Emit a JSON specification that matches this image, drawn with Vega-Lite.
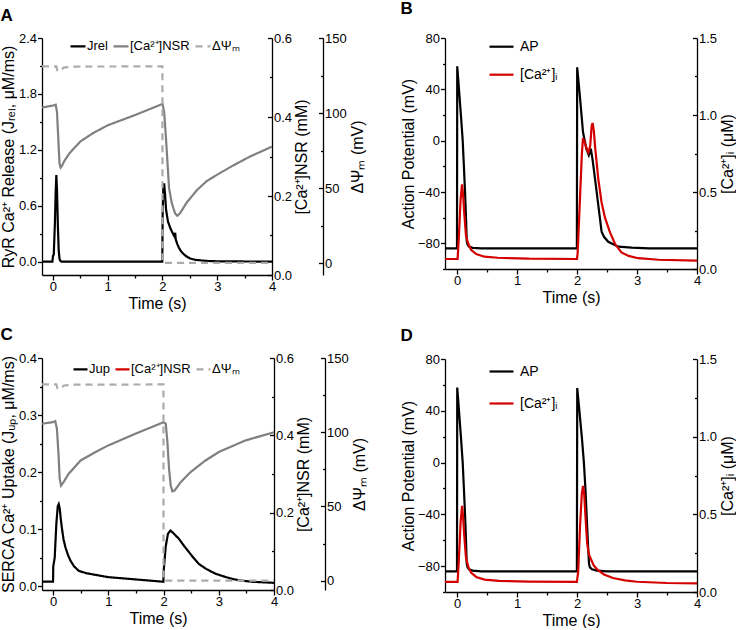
{
"$schema": "https://vega.github.io/schema/vega-lite/v6.json",
"padding": {"left": 0, "top": 0, "right": 0, "bottom": 0},
"datasets": {
"A1": [{"s":"Jrel","t":-0.2,"v":0},{"s":"Jrel","t":-0.01,"v":0},{"s":"Jrel","t":0,"v":0.06},{"s":"Jrel","t":0.015,"v":0.08},{"s":"Jrel","t":0.035,"v":0.4},{"s":"Jrel","t":0.05,"v":0.75},{"s":"Jrel","t":0.062,"v":0.93},{"s":"Jrel","t":0.075,"v":0.75},{"s":"Jrel","t":0.09,"v":0.38},{"s":"Jrel","t":0.105,"v":0.12},{"s":"Jrel","t":0.12,"v":0.03},{"s":"Jrel","t":0.14,"v":0.005},{"s":"Jrel","t":0.16,"v":0},{"s":"Jrel","t":1.997,"v":0},{"s":"Jrel","t":2.003,"v":0.5},{"s":"Jrel","t":2.015,"v":0.8},{"s":"Jrel","t":2.03,"v":0.84},{"s":"Jrel","t":2.045,"v":0.74},{"s":"Jrel","t":2.065,"v":0.56},{"s":"Jrel","t":2.1,"v":0.43},{"s":"Jrel","t":2.15,"v":0.35},{"s":"Jrel","t":2.2,"v":0.29},{"s":"Jrel","t":2.22,"v":0.27},{"s":"Jrel","t":2.232,"v":0.31},{"s":"Jrel","t":2.242,"v":0.24},{"s":"Jrel","t":2.27,"v":0.19},{"s":"Jrel","t":2.3,"v":0.15},{"s":"Jrel","t":2.34,"v":0.11},{"s":"Jrel","t":2.38,"v":0.085},{"s":"Jrel","t":2.44,"v":0.055},{"s":"Jrel","t":2.5,"v":0.035},{"s":"Jrel","t":2.6,"v":0.02},{"s":"Jrel","t":2.8,"v":0.008},{"s":"Jrel","t":3.0,"v":0.004},{"s":"Jrel","t":4,"v":0}],
"A2": [{"s":"[Ca²⁺]NSR","t":-0.2,"v":0.424},{"s":"[Ca²⁺]NSR","t":0,"v":0.429},{"s":"[Ca²⁺]NSR","t":0.05,"v":0.431},{"s":"[Ca²⁺]NSR","t":0.073,"v":0.414},{"s":"[Ca²⁺]NSR","t":0.1,"v":0.338},{"s":"[Ca²⁺]NSR","t":0.12,"v":0.282},{"s":"[Ca²⁺]NSR","t":0.14,"v":0.272},{"s":"[Ca²⁺]NSR","t":0.17,"v":0.278},{"s":"[Ca²⁺]NSR","t":0.21,"v":0.289},{"s":"[Ca²⁺]NSR","t":0.3,"v":0.308},{"s":"[Ca²⁺]NSR","t":0.5,"v":0.338},{"s":"[Ca²⁺]NSR","t":0.73,"v":0.359},{"s":"[Ca²⁺]NSR","t":1.0,"v":0.379},{"s":"[Ca²⁺]NSR","t":1.5,"v":0.405},{"s":"[Ca²⁺]NSR","t":2.0,"v":0.433},{"s":"[Ca²⁺]NSR","t":2.03,"v":0.414},{"s":"[Ca²⁺]NSR","t":2.06,"v":0.355},{"s":"[Ca²⁺]NSR","t":2.08,"v":0.31},{"s":"[Ca²⁺]NSR","t":2.12,"v":0.22},{"s":"[Ca²⁺]NSR","t":2.17,"v":0.182},{"s":"[Ca²⁺]NSR","t":2.23,"v":0.156},{"s":"[Ca²⁺]NSR","t":2.27,"v":0.15},{"s":"[Ca²⁺]NSR","t":2.32,"v":0.156},{"s":"[Ca²⁺]NSR","t":2.44,"v":0.183},{"s":"[Ca²⁺]NSR","t":2.63,"v":0.215},{"s":"[Ca²⁺]NSR","t":2.81,"v":0.238},{"s":"[Ca²⁺]NSR","t":3.0,"v":0.254},{"s":"[Ca²⁺]NSR","t":3.3,"v":0.278},{"s":"[Ca²⁺]NSR","t":3.6,"v":0.3},{"s":"[Ca²⁺]NSR","t":4,"v":0.325}],
"A3": [{"s":"ΔΨₘ","t":-0.2,"v":131.1},{"s":"ΔΨₘ","t":0.06,"v":131.1},{"s":"ΔΨₘ","t":0.08,"v":128.5},{"s":"ΔΨₘ","t":0.1,"v":127.8},{"s":"ΔΨₘ","t":0.13,"v":128.5},{"s":"ΔΨₘ","t":0.2,"v":130.3},{"s":"ΔΨₘ","t":0.35,"v":131},{"s":"ΔΨₘ","t":1.999,"v":131.1},{"s":"ΔΨₘ","t":2.0,"v":0.4},{"s":"ΔΨₘ","t":4,"v":0.4}],
"B1": [{"s":"AP","t":-0.2,"v":-84},{"s":"AP","t":0,"v":-84},{"s":"AP","t":0.004,"v":58},{"s":"AP","t":0.033,"v":40},{"s":"AP","t":0.065,"v":20},{"s":"AP","t":0.095,"v":0},{"s":"AP","t":0.115,"v":-20},{"s":"AP","t":0.134,"v":-40},{"s":"AP","t":0.15,"v":-60},{"s":"AP","t":0.162,"v":-78},{"s":"AP","t":0.175,"v":-81},{"s":"AP","t":0.2,"v":-82.5},{"s":"AP","t":0.26,"v":-83.5},{"s":"AP","t":0.4,"v":-84},{"s":"AP","t":1.998,"v":-84},{"s":"AP","t":2.003,"v":57.2},{"s":"AP","t":2.047,"v":35.2},{"s":"AP","t":2.1,"v":6.7},{"s":"AP","t":2.155,"v":-6.2},{"s":"AP","t":2.197,"v":-11.4},{"s":"AP","t":2.215,"v":-9},{"s":"AP","t":2.23,"v":-6.2},{"s":"AP","t":2.26,"v":-15},{"s":"AP","t":2.3,"v":-29.5},{"s":"AP","t":2.355,"v":-50.2},{"s":"AP","t":2.41,"v":-71},{"s":"AP","t":2.45,"v":-74.9},{"s":"AP","t":2.52,"v":-78.8},{"s":"AP","t":2.69,"v":-82.6},{"s":"AP","t":2.91,"v":-83.4},{"s":"AP","t":3.2,"v":-84},{"s":"AP","t":4,"v":-84}],
"B2": [{"s":"[Ca²⁺]ᵢ","t":-0.2,"v":0.065},{"s":"[Ca²⁺]ᵢ","t":0.01,"v":0.065},{"s":"[Ca²⁺]ᵢ","t":0.03,"v":0.2},{"s":"[Ca²⁺]ᵢ","t":0.06,"v":0.45},{"s":"[Ca²⁺]ᵢ","t":0.084,"v":0.55},{"s":"[Ca²⁺]ᵢ","t":0.1,"v":0.49},{"s":"[Ca²⁺]ᵢ","t":0.12,"v":0.367},{"s":"[Ca²⁺]ᵢ","t":0.15,"v":0.216},{"s":"[Ca²⁺]ᵢ","t":0.19,"v":0.162},{"s":"[Ca²⁺]ᵢ","t":0.234,"v":0.125},{"s":"[Ca²⁺]ᵢ","t":0.32,"v":0.097},{"s":"[Ca²⁺]ᵢ","t":0.457,"v":0.08},{"s":"[Ca²⁺]ᵢ","t":0.68,"v":0.073},{"s":"[Ca²⁺]ᵢ","t":1.2,"v":0.067},{"s":"[Ca²⁺]ᵢ","t":2.0,"v":0.065},{"s":"[Ca²⁺]ᵢ","t":2.01,"v":0.1},{"s":"[Ca²⁺]ᵢ","t":2.05,"v":0.46},{"s":"[Ca²⁺]ᵢ","t":2.08,"v":0.74},{"s":"[Ca²⁺]ᵢ","t":2.1,"v":0.85},{"s":"[Ca²⁺]ᵢ","t":2.13,"v":0.82},{"s":"[Ca²⁺]ᵢ","t":2.17,"v":0.77},{"s":"[Ca²⁺]ᵢ","t":2.19,"v":0.757},{"s":"[Ca²⁺]ᵢ","t":2.22,"v":0.8},{"s":"[Ca²⁺]ᵢ","t":2.245,"v":0.93},{"s":"[Ca²⁺]ᵢ","t":2.26,"v":0.948},{"s":"[Ca²⁺]ᵢ","t":2.28,"v":0.9},{"s":"[Ca²⁺]ᵢ","t":2.3,"v":0.8},{"s":"[Ca²⁺]ᵢ","t":2.355,"v":0.584},{"s":"[Ca²⁺]ᵢ","t":2.41,"v":0.432},{"s":"[Ca²⁺]ᵢ","t":2.465,"v":0.335},{"s":"[Ca²⁺]ᵢ","t":2.55,"v":0.238},{"s":"[Ca²⁺]ᵢ","t":2.635,"v":0.162},{"s":"[Ca²⁺]ᵢ","t":2.74,"v":0.108},{"s":"[Ca²⁺]ᵢ","t":2.86,"v":0.085},{"s":"[Ca²⁺]ᵢ","t":3.02,"v":0.07},{"s":"[Ca²⁺]ᵢ","t":3.36,"v":0.06},{"s":"[Ca²⁺]ᵢ","t":4,"v":0.054}],
"C1": [{"s":"Jup","t":-0.2,"v":0.008},{"s":"Jup","t":0,"v":0.008},{"s":"Jup","t":0.004,"v":0.035},{"s":"Jup","t":0.03,"v":0.05},{"s":"Jup","t":0.06,"v":0.11},{"s":"Jup","t":0.085,"v":0.14},{"s":"Jup","t":0.103,"v":0.144},{"s":"Jup","t":0.12,"v":0.137},{"s":"Jup","t":0.14,"v":0.118},{"s":"Jup","t":0.163,"v":0.1},{"s":"Jup","t":0.19,"v":0.082},{"s":"Jup","t":0.225,"v":0.068},{"s":"Jup","t":0.27,"v":0.055},{"s":"Jup","t":0.315,"v":0.045},{"s":"Jup","t":0.38,"v":0.035},{"s":"Jup","t":0.466,"v":0.027},{"s":"Jup","t":0.6,"v":0.023},{"s":"Jup","t":0.77,"v":0.02},{"s":"Jup","t":1.0,"v":0.016},{"s":"Jup","t":1.5,"v":0.012},{"s":"Jup","t":1.997,"v":0.008},{"s":"Jup","t":2.005,"v":0.03},{"s":"Jup","t":2.04,"v":0.07},{"s":"Jup","t":2.08,"v":0.092},{"s":"Jup","t":2.127,"v":0.0977},{"s":"Jup","t":2.18,"v":0.093},{"s":"Jup","t":2.28,"v":0.083},{"s":"Jup","t":2.37,"v":0.071},{"s":"Jup","t":2.46,"v":0.06},{"s":"Jup","t":2.55,"v":0.049},{"s":"Jup","t":2.64,"v":0.039},{"s":"Jup","t":2.78,"v":0.03},{"s":"Jup","t":2.94,"v":0.022},{"s":"Jup","t":3.1,"v":0.017},{"s":"Jup","t":3.24,"v":0.013},{"s":"Jup","t":3.4,"v":0.01},{"s":"Jup","t":3.6,"v":0.008},{"s":"Jup","t":4,"v":0.006}],
"C2": [{"t":-0.2,"v":0.43},{"t":0,"v":0.434},{"t":0.04,"v":0.437},{"t":0.07,"v":0.417},{"t":0.1,"v":0.348},{"t":0.12,"v":0.288},{"t":0.145,"v":0.27},{"t":0.19,"v":0.279},{"t":0.28,"v":0.3},{"t":0.5,"v":0.335},{"t":0.77,"v":0.357},{"t":1.0,"v":0.374},{"t":1.49,"v":0.404},{"t":2.0,"v":0.434},{"t":2.04,"v":0.43},{"t":2.07,"v":0.383},{"t":2.1,"v":0.313},{"t":2.13,"v":0.27},{"t":2.16,"v":0.255},{"t":2.2,"v":0.257},{"t":2.31,"v":0.279},{"t":2.49,"v":0.305},{"t":2.76,"v":0.335},{"t":3.0,"v":0.357},{"t":3.49,"v":0.387},{"t":4,"v":0.408}],
"C3": [{"s":"ΔΨₘ","t":-0.2,"v":132.2},{"s":"ΔΨₘ","t":0.06,"v":132.2},{"s":"ΔΨₘ","t":0.08,"v":129.5},{"s":"ΔΨₘ","t":0.1,"v":129},{"s":"ΔΨₘ","t":0.13,"v":129.5},{"s":"ΔΨₘ","t":0.2,"v":131.5},{"s":"ΔΨₘ","t":0.35,"v":132},{"s":"ΔΨₘ","t":1.999,"v":132.2},{"s":"ΔΨₘ","t":2.0,"v":0},{"s":"ΔΨₘ","t":4,"v":0}],
"D1": [{"s":"AP","t":-0.2,"v":-84},{"s":"AP","t":0,"v":-84},{"s":"AP","t":0.004,"v":58},{"s":"AP","t":0.033,"v":40},{"s":"AP","t":0.065,"v":20},{"s":"AP","t":0.095,"v":0},{"s":"AP","t":0.115,"v":-20},{"s":"AP","t":0.134,"v":-40},{"s":"AP","t":0.15,"v":-60},{"s":"AP","t":0.162,"v":-78},{"s":"AP","t":0.175,"v":-81},{"s":"AP","t":0.2,"v":-82.5},{"s":"AP","t":0.26,"v":-83.5},{"s":"AP","t":0.4,"v":-84},{"s":"AP","t":1.998,"v":-84},{"s":"AP","t":2.004,"v":57.5},{"s":"AP","t":2.04,"v":40},{"s":"AP","t":2.08,"v":20},{"s":"AP","t":2.115,"v":0},{"s":"AP","t":2.14,"v":-20},{"s":"AP","t":2.16,"v":-40},{"s":"AP","t":2.18,"v":-60},{"s":"AP","t":2.2,"v":-78},{"s":"AP","t":2.215,"v":-81},{"s":"AP","t":2.25,"v":-82.5},{"s":"AP","t":2.33,"v":-83.5},{"s":"AP","t":2.5,"v":-84},{"s":"AP","t":4,"v":-84}],
"D2": [{"s":"[Ca²⁺]ᵢ","t":-0.2,"v":0.065},{"s":"[Ca²⁺]ᵢ","t":0.01,"v":0.065},{"s":"[Ca²⁺]ᵢ","t":0.03,"v":0.2},{"s":"[Ca²⁺]ᵢ","t":0.06,"v":0.45},{"s":"[Ca²⁺]ᵢ","t":0.085,"v":0.554},{"s":"[Ca²⁺]ᵢ","t":0.1,"v":0.49},{"s":"[Ca²⁺]ᵢ","t":0.12,"v":0.367},{"s":"[Ca²⁺]ᵢ","t":0.15,"v":0.22},{"s":"[Ca²⁺]ᵢ","t":0.19,"v":0.16},{"s":"[Ca²⁺]ᵢ","t":0.234,"v":0.125},{"s":"[Ca²⁺]ᵢ","t":0.32,"v":0.097},{"s":"[Ca²⁺]ᵢ","t":0.46,"v":0.08},{"s":"[Ca²⁺]ᵢ","t":0.7,"v":0.072},{"s":"[Ca²⁺]ᵢ","t":1.2,"v":0.067},{"s":"[Ca²⁺]ᵢ","t":1.998,"v":0.065},{"s":"[Ca²⁺]ᵢ","t":2.02,"v":0.13},{"s":"[Ca²⁺]ᵢ","t":2.05,"v":0.42},{"s":"[Ca²⁺]ᵢ","t":2.08,"v":0.63},{"s":"[Ca²⁺]ᵢ","t":2.1,"v":0.683},{"s":"[Ca²⁺]ᵢ","t":2.12,"v":0.63},{"s":"[Ca²⁺]ᵢ","t":2.15,"v":0.43},{"s":"[Ca²⁺]ᵢ","t":2.17,"v":0.31},{"s":"[Ca²⁺]ᵢ","t":2.2,"v":0.24},{"s":"[Ca²⁺]ᵢ","t":2.28,"v":0.17},{"s":"[Ca²⁺]ᵢ","t":2.35,"v":0.14},{"s":"[Ca²⁺]ᵢ","t":2.45,"v":0.113},{"s":"[Ca²⁺]ᵢ","t":2.6,"v":0.09},{"s":"[Ca²⁺]ᵢ","t":2.8,"v":0.075},{"s":"[Ca²⁺]ᵢ","t":3.0,"v":0.066},{"s":"[Ca²⁺]ᵢ","t":3.5,"v":0.058},{"s":"[Ca²⁺]ᵢ","t":4,"v":0.055}]
},
"columns": 2,
"align": "none",
"spacing": {"row": 15, "column": 32},
"resolve": {"scale": {"color": "independent", "strokeDash": "independent"}},
"concat": [
{
"width": 230, "height": 237,
"title": {"text": "A", "offset": 7},
"resolve": {"scale": {"y": "independent"}},
"layer": [
{"data": {"name": "A1"}, "mark": {"type": "line", "strokeWidth": 2.2},
 "encoding": {
  "x": {"field": "t", "type": "quantitative", "scale": {"domain": [-0.2, 4], "nice": false, "zero": false}, "axis": {"title": "Time (s)", "values": [0,0.5,1,1.5,2,2.5,3,3.5,4], "labelExpr": "datum.value % 1 == 0 ? format(datum.value,'d') : ''", "tickSize": {"condition": {"test": "datum.value % 1 != 0", "value": 3}, "value": 5}, "labelPadding": 0, "titlePadding": 2}},
  "y": {"field": "v", "type": "quantitative", "scale": {"domain": [-0.143, 2.4], "nice": false, "zero": false}, "axis": {"orient": "left", "title": "RyR Ca²⁺ Release (Jᵣₑₗ, μM/ms)", "values": [0,0.3,0.6,0.9,1.2,1.5,1.8,2.1,2.4], "labelExpr": "round(datum.value*10) % 6 == 0 ? format(datum.value,'.1f') : ''", "tickSize": {"condition": {"test": "round(datum.value*10) % 6 != 0", "value": 2.5}, "value": 4.5}, "labelPadding": 1, "titlePadding": 2}},
  "color": {"field": "s", "type": "nominal", "scale": {"domain": ["Jrel", "[Ca²⁺]NSR", "ΔΨₘ"], "range": ["#000000", "#808080", "#ababab"]}, "legend": {"orient": "none", "legendX": 27, "legendY": -0.7, "direction": "horizontal", "title": null, "symbolSize": 225, "columnPadding": 1, "labelOffset": 0, "labelExpr": "datum.label == 'Jrel' ? 'Jrel        ' : datum.label"}},
  "strokeDash": {"field": "s", "type": "nominal", "scale": {"domain": ["Jrel", "[Ca²⁺]NSR", "ΔΨₘ"], "range": [[1,0],[1,0],[7,5]]}, "legend": {"orient": "none", "legendX": 27, "legendY": -0.7, "direction": "horizontal", "title": null, "symbolSize": 225, "columnPadding": 1, "labelOffset": 0, "labelExpr": "datum.label == 'Jrel' ? 'Jrel        ' : datum.label"}}
 }},
{"data": {"name": "A2"}, "mark": {"type": "line", "strokeWidth": 2.2},
 "encoding": {
  "x": {"field": "t", "type": "quantitative", "scale": {"domain": [-0.2, 4], "nice": false, "zero": false}, "axis": {"title": "Time (s)", "values": [0,0.5,1,1.5,2,2.5,3,3.5,4], "labelExpr": "datum.value % 1 == 0 ? format(datum.value,'d') : ''", "tickSize": {"condition": {"test": "datum.value % 1 != 0", "value": 3}, "value": 5}, "labelPadding": 0, "titlePadding": 2}},
  "y": {"field": "v", "type": "quantitative", "scale": {"domain": [0, 0.6], "nice": false, "zero": false}, "axis": {"orient": "right", "title": "[Ca²⁺]NSR (mM)", "titleAngle": 270, "titleBaseline": "top", "values": [0,0.1,0.2,0.3,0.4,0.5,0.6], "labelExpr": "round(datum.value*10) % 2 == 0 ? format(datum.value,'.1f') : ''", "tickSize": {"condition": {"test": "round(datum.value*10) % 2 != 0", "value": -2.5}, "value": -4.5}, "labelPadding": 6, "titlePadding": 2}},
  "color": {"field": "s", "type": "nominal", "scale": {"domain": ["Jrel", "[Ca²⁺]NSR", "ΔΨₘ"], "range": ["#000000", "#808080", "#ababab"]}},
  "strokeDash": {"field": "s", "type": "nominal", "scale": {"domain": ["Jrel", "[Ca²⁺]NSR", "ΔΨₘ"], "range": [[1,0],[1,0],[7,5]]}}
 }},
{"data": {"name": "A3"}, "mark": {"type": "line", "strokeWidth": 2.2},
 "encoding": {
  "x": {"field": "t", "type": "quantitative", "scale": {"domain": [-0.2, 4], "nice": false, "zero": false}, "axis": {"title": "Time (s)", "values": [0,0.5,1,1.5,2,2.5,3,3.5,4], "labelExpr": "datum.value % 1 == 0 ? format(datum.value,'d') : ''", "tickSize": {"condition": {"test": "datum.value % 1 != 0", "value": 3}, "value": 5}, "labelPadding": 0, "titlePadding": 2}},
  "y": {"field": "v", "type": "quantitative", "scale": {"domain": [-7.7, 150], "nice": false, "zero": false}, "axis": {"orient": "right", "offset": 51, "title": "ΔΨₘ (mV)", "titleAngle": 270, "titleBaseline": "top", "values": [0,25,50,75,100,125,150], "labelExpr": "datum.value % 50 == 0 ? format(datum.value,'d') : ''", "tickSize": {"condition": {"test": "datum.value % 50 != 0", "value": -2.5}, "value": -4.5}, "labelPadding": 6, "titlePadding": 3}},
  "color": {"field": "s", "type": "nominal", "scale": {"domain": ["Jrel", "[Ca²⁺]NSR", "ΔΨₘ"], "range": ["#000000", "#808080", "#ababab"]}},
  "strokeDash": {"field": "s", "type": "nominal", "scale": {"domain": ["Jrel", "[Ca²⁺]NSR", "ΔΨₘ"], "range": [[1,0],[1,0],[7,5]]}}
 }}
]
},
{
"width": 252, "height": 231,
"title": {"text": "B", "offset": 7},
"resolve": {"scale": {"y": "independent"}},
"layer": [
{"data": {"name": "B1"}, "mark": {"type": "line", "strokeWidth": 2.2},
 "encoding": {
  "x": {"field": "t", "type": "quantitative", "scale": {"domain": [-0.2, 4], "nice": false, "zero": false}, "axis": {"title": "Time (s)", "values": [0,0.5,1,1.5,2,2.5,3,3.5,4], "labelExpr": "datum.value % 1 == 0 ? format(datum.value,'d') : ''", "tickSize": {"condition": {"test": "datum.value % 1 != 0", "value": 3}, "value": 5}, "labelPadding": 0, "titlePadding": 2}},
  "y": {"field": "v", "type": "quantitative", "scale": {"domain": [-100, 80], "nice": false, "zero": false}, "axis": {"orient": "left", "title": "Action Potential (mV)", "values": [-100,-80,-60,-40,-20,0,20,40,60,80], "labelExpr": "(datum.value + 80) % 40 == 0 ? format(datum.value,'d') : ''", "tickSize": {"condition": {"test": "(datum.value + 80) % 40 != 0", "value": 2.5}, "value": 4.5}, "labelPadding": 1, "titlePadding": 1}},
  "color": {"field": "s", "type": "nominal", "scale": {"domain": ["AP", "[Ca²⁺]ᵢ"], "range": ["#000000", "#d40000"]}, "legend": {"orient": "none", "legendX": 43, "legendY": -12.8, "direction": "vertical", "title": " ", "titleFontSize": 8, "titlePadding": 0, "symbolSize": 576, "rowPadding": 7, "labelOffset": 5, "labelFontSize": 14}}
 }},
{"data": {"name": "B2"}, "mark": {"type": "line", "strokeWidth": 2.2},
 "encoding": {
  "x": {"field": "t", "type": "quantitative", "scale": {"domain": [-0.2, 4], "nice": false, "zero": false}, "axis": {"title": "Time (s)", "values": [0,0.5,1,1.5,2,2.5,3,3.5,4], "labelExpr": "datum.value % 1 == 0 ? format(datum.value,'d') : ''", "tickSize": {"condition": {"test": "datum.value % 1 != 0", "value": 3}, "value": 5}, "labelPadding": 0, "titlePadding": 2}},
  "y": {"field": "v", "type": "quantitative", "scale": {"domain": [0, 1.5], "nice": false, "zero": false}, "axis": {"orient": "right", "title": "[Ca²⁺]ᵢ (μM)", "titleAngle": 270, "titleBaseline": "top", "values": [0,0.25,0.5,0.75,1,1.25,1.5], "labelExpr": "round(datum.value*100) % 50 == 0 ? format(datum.value,'.1f') : ''", "tickSize": {"condition": {"test": "round(datum.value*100) % 50 != 0", "value": -2.5}, "value": -4.5}, "labelPadding": 6, "titlePadding": 3}},
  "color": {"field": "s", "type": "nominal", "scale": {"domain": ["AP", "[Ca²⁺]ᵢ"], "range": ["#000000", "#d40000"]}}
 }}
]
},
{
"width": 232, "height": 232,
"title": {"text": "C", "offset": 7.6},
"resolve": {"scale": {"y": "independent"}},
"layer": [
{"data": {"name": "C1"}, "mark": {"type": "line", "strokeWidth": 2.2},
 "encoding": {
  "x": {"field": "t", "type": "quantitative", "scale": {"domain": [-0.2, 4], "nice": false, "zero": false}, "axis": {"title": "Time (s)", "values": [0,0.5,1,1.5,2,2.5,3,3.5,4], "labelExpr": "datum.value % 1 == 0 ? format(datum.value,'d') : ''", "tickSize": {"condition": {"test": "datum.value % 1 != 0", "value": 3}, "value": 5}, "labelPadding": 0, "titlePadding": 2}},
  "y": {"field": "v", "type": "quantitative", "scale": {"domain": [-0.0065, 0.4], "nice": false, "zero": false}, "axis": {"orient": "left", "title": "SERCA Ca²⁺ Uptake (Jᵤₚ, μM/ms)", "values": [0,0.05,0.1,0.15,0.2,0.25,0.3,0.35,0.4], "labelExpr": "round(datum.value*100) % 10 == 0 ? format(datum.value,'.1f') : ''", "tickSize": {"condition": {"test": "round(datum.value*100) % 10 != 0", "value": 2.5}, "value": 4.5}, "labelPadding": 1, "titlePadding": 2}},
  "color": {"field": "s", "type": "nominal", "scale": {"domain": ["Jup", "[Ca²⁺]NSR", "ΔΨₘ"], "range": ["#000000", "#d40000", "#ababab"]}, "legend": {"orient": "none", "legendX": 30, "legendY": 2.7, "direction": "horizontal", "title": null, "symbolSize": 196, "columnPadding": 1, "labelOffset": 0, "labelExpr": "datum.label == 'Jup' ? 'Jup        ' : datum.label"}},
  "strokeDash": {"field": "s", "type": "nominal", "scale": {"domain": ["Jup", "[Ca²⁺]NSR", "ΔΨₘ"], "range": [[1,0],[1,0],[7,5]]}, "legend": {"orient": "none", "legendX": 30, "legendY": 2.7, "direction": "horizontal", "title": null, "symbolSize": 196, "columnPadding": 1, "labelOffset": 0, "labelExpr": "datum.label == 'Jup' ? 'Jup        ' : datum.label"}}
 }},
{"data": {"name": "C2"}, "mark": {"type": "line", "strokeWidth": 2.2, "color": "#808080"},
 "encoding": {
  "x": {"field": "t", "type": "quantitative", "scale": {"domain": [-0.2, 4], "nice": false, "zero": false}, "axis": {"title": "Time (s)", "values": [0,0.5,1,1.5,2,2.5,3,3.5,4], "labelExpr": "datum.value % 1 == 0 ? format(datum.value,'d') : ''", "tickSize": {"condition": {"test": "datum.value % 1 != 0", "value": 3}, "value": 5}, "labelPadding": 0, "titlePadding": 2}},
  "y": {"field": "v", "type": "quantitative", "scale": {"domain": [0, 0.6], "nice": false, "zero": false}, "axis": {"orient": "right", "title": "[Ca²⁺]NSR (mM)", "titleAngle": 270, "titleBaseline": "top", "values": [0,0.1,0.2,0.3,0.4,0.5,0.6], "labelExpr": "round(datum.value*10) % 2 == 0 ? format(datum.value,'.1f') : ''", "tickSize": {"condition": {"test": "round(datum.value*10) % 2 != 0", "value": -2.5}, "value": -4.5}, "labelPadding": 6, "titlePadding": 2}}
 }},
{"data": {"name": "C3"}, "mark": {"type": "line", "strokeWidth": 2.2},
 "encoding": {
  "x": {"field": "t", "type": "quantitative", "scale": {"domain": [-0.2, 4], "nice": false, "zero": false}, "axis": {"title": "Time (s)", "values": [0,0.5,1,1.5,2,2.5,3,3.5,4], "labelExpr": "datum.value % 1 == 0 ? format(datum.value,'d') : ''", "tickSize": {"condition": {"test": "datum.value % 1 != 0", "value": 3}, "value": 5}, "labelPadding": 0, "titlePadding": 2}},
  "y": {"field": "v", "type": "quantitative", "scale": {"domain": [-6.3, 150], "nice": false, "zero": false}, "axis": {"orient": "right", "offset": 51, "title": "ΔΨₘ (mV)", "titleAngle": 270, "titleBaseline": "top", "values": [0,25,50,75,100,125,150], "labelExpr": "datum.value % 50 == 0 ? format(datum.value,'d') : ''", "tickSize": {"condition": {"test": "datum.value % 50 != 0", "value": -2.5}, "value": -4.5}, "labelPadding": 6, "titlePadding": 3}},
  "color": {"field": "s", "type": "nominal", "scale": {"domain": ["Jup", "[Ca²⁺]NSR", "ΔΨₘ"], "range": ["#000000", "#d40000", "#ababab"]}},
  "strokeDash": {"field": "s", "type": "nominal", "scale": {"domain": ["Jup", "[Ca²⁺]NSR", "ΔΨₘ"], "range": [[1,0],[1,0],[7,5]]}}
 }}
]
},
{
"width": 252, "height": 233,
"title": {"text": "D", "offset": 8.3},
"resolve": {"scale": {"y": "independent"}},
"layer": [
{"data": {"name": "D1"}, "mark": {"type": "line", "strokeWidth": 2.2},
 "encoding": {
  "x": {"field": "t", "type": "quantitative", "scale": {"domain": [-0.2, 4], "nice": false, "zero": false}, "axis": {"title": "Time (s)", "values": [0,0.5,1,1.5,2,2.5,3,3.5,4], "labelExpr": "datum.value % 1 == 0 ? format(datum.value,'d') : ''", "tickSize": {"condition": {"test": "datum.value % 1 != 0", "value": 3}, "value": 5}, "labelPadding": 0, "titlePadding": 2}},
  "y": {"field": "v", "type": "quantitative", "scale": {"domain": [-100, 80], "nice": false, "zero": false}, "axis": {"orient": "left", "title": "Action Potential (mV)", "values": [-100,-80,-60,-40,-20,0,20,40,60,80], "labelExpr": "(datum.value + 80) % 40 == 0 ? format(datum.value,'d') : ''", "tickSize": {"condition": {"test": "(datum.value + 80) % 40 != 0", "value": 2.5}, "value": 4.5}, "labelPadding": 1, "titlePadding": 1}},
  "color": {"field": "s", "type": "nominal", "scale": {"domain": ["AP", "[Ca²⁺]ᵢ"], "range": ["#000000", "#d40000"]}, "legend": {"orient": "none", "legendX": 43, "legendY": -1, "direction": "vertical", "title": null, "symbolSize": 576, "rowPadding": 11, "labelOffset": 5, "labelFontSize": 14}}
 }},
{"data": {"name": "D2"}, "mark": {"type": "line", "strokeWidth": 2.2},
 "encoding": {
  "x": {"field": "t", "type": "quantitative", "scale": {"domain": [-0.2, 4], "nice": false, "zero": false}, "axis": {"title": "Time (s)", "values": [0,0.5,1,1.5,2,2.5,3,3.5,4], "labelExpr": "datum.value % 1 == 0 ? format(datum.value,'d') : ''", "tickSize": {"condition": {"test": "datum.value % 1 != 0", "value": 3}, "value": 5}, "labelPadding": 0, "titlePadding": 2}},
  "y": {"field": "v", "type": "quantitative", "scale": {"domain": [0, 1.5], "nice": false, "zero": false}, "axis": {"orient": "right", "title": "[Ca²⁺]ᵢ (μM)", "titleAngle": 270, "titleBaseline": "top", "values": [0,0.25,0.5,0.75,1,1.25,1.5], "labelExpr": "round(datum.value*100) % 50 == 0 ? format(datum.value,'.1f') : ''", "tickSize": {"condition": {"test": "round(datum.value*100) % 50 != 0", "value": -2.5}, "value": -4.5}, "labelPadding": 6, "titlePadding": 3}},
  "color": {"field": "s", "type": "nominal", "scale": {"domain": ["AP", "[Ca²⁺]ᵢ"], "range": ["#000000", "#d40000"]}}
 }}
]
}
],
"config": {
  "font": "Liberation Sans",
  "view": {"stroke": null},
  "axis": {"grid": false, "labelFont": "Liberation Sans", "labelFontSize": 13, "labelColor": "#000000", "titleFont": "Liberation Sans", "titleFontSize": 16, "titleFontWeight": "normal", "titleColor": "#000000", "domainColor": "#000000", "tickColor": "#000000", "domainWidth": 1.3, "tickWidth": 1.3, "labelFlush": false, "labelOverlap": false, "labelBound": false},
  "legend": {"symbolType": "stroke", "symbolStrokeWidth": 2.2, "labelFont": "Liberation Sans", "labelFontSize": 13, "labelColor": "#000000", "padding": 0},
  "title": {"anchor": "start", "frame": "bounds", "fontSize": 17, "fontWeight": "bold", "color": "#000000", "font": "Liberation Sans"}
}
}
